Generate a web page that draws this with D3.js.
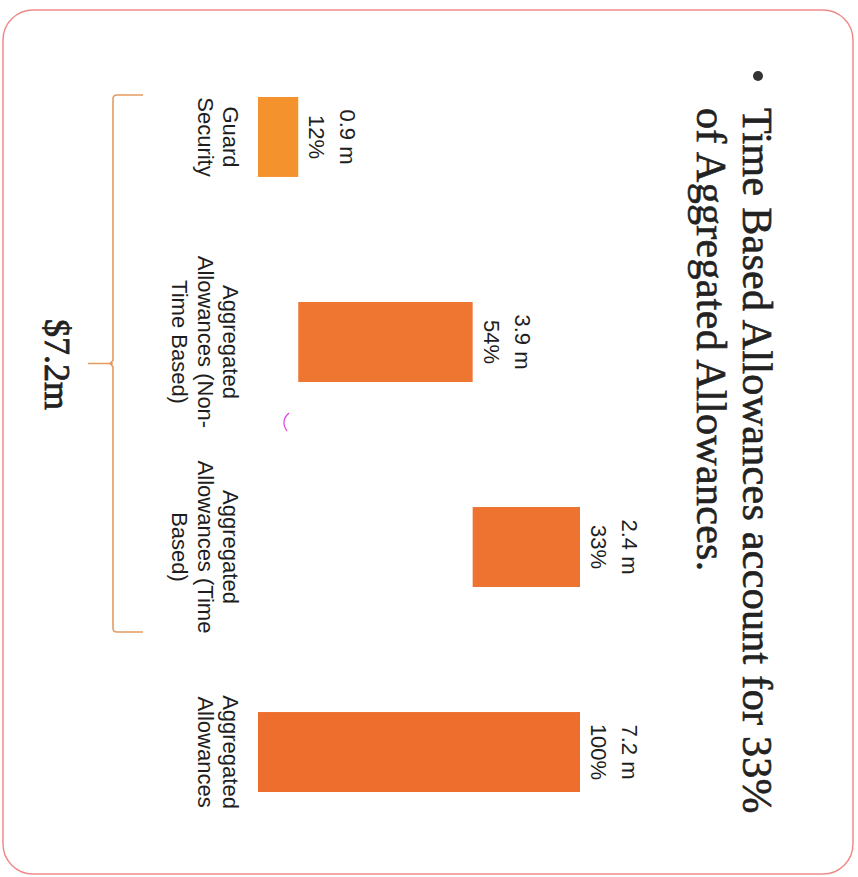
<!DOCTYPE html>
<html><head><meta charset="utf-8">
<script src="https://cdn.jsdelivr.net/npm/d3@7"></script>
<style>html,body{margin:0;padding:0;background:#fff;} svg{display:block}</style>
</head><body><svg id="chart" width="858" height="877"></svg>
<script>
// ---- data ----
const categories = ["Guard Security", "Aggregated Allowances (Non-Time Based)", "Aggregated Allowances (Time Based)", "Aggregated Allowances"];
const categoryLines = [["Guard", "Security"], ["Aggregated", "Allowances (Non-", "Time Based)"], ["Aggregated", "Allowances (Time", "Based)"], ["Aggregated", "Allowances"]];
const values = [0.9, 3.9, 2.4, 7.2];
const amountLabels = ["0.9 m", "3.9 m", "2.4 m", "7.2 m"];
const percentLabels = ["12%", "54%", "33%", "100%"];
const isTotal = [false, false, false, true];
const titleLines = ["Time Based Allowances account for 33%", "of Aggregated Allowances."];
const braceLabel = "$7.2m";

// ---- build waterfall ----
let running = 0;
const rows = categories.map((c, i) => {
  let s, e;
  if (isTotal[i]) { s = 0; e = values[i]; }
  else { s = running; e = running + values[i]; running = e; }
  return { cat: c, lines: categoryLines[i], start: s, end: e, amount: amountLabels[i], pct: percentLabels[i] };
});

const W = 858, H = 877;
const svg = d3.select("#chart");
svg.append("rect").attr("width", W).attr("height", H).attr("fill", "#ffffff");

// slide border (screen coordinates)
svg.append("rect").attr("x", 3).attr("y", 10).attr("width", 850).attr("height", 864)
  .attr("rx", 30).attr("fill", "none").attr("stroke", "#f08a8a").attr("stroke-width", 1.5);

// rotated slide content: original frame u (left->right) = screen y, v (top->bottom) = W - screen x
const g = svg.append("g").attr("transform", `translate(${W},0) rotate(90)`);

const x = d3.scaleBand().domain(categories).range([35.5, 853.5]).paddingInner(0.61).paddingOuter(0.3);
const y = d3.scaleLinear().domain([0, 7.2]).range([600, 278]);
const color = d3.scaleOrdinal().domain(categories).range(["#f4922e", "#ef7630", "#ee7230", "#ee6e2e"]);

// title
g.append("circle").attr("cx", 76).attr("cy", 100).attr("r", 5).attr("fill", "#333");
g.selectAll("text.title").data(titleLines).join("text").attr("class", "title")
  .attr("x", 108).attr("y", (d, i) => 115 + i * 46)
  .attr("font-family", "'Liberation Serif', 'Times New Roman', serif").attr("font-size", 42)
  .attr("letter-spacing", 0.3)
  .attr("fill", "#222").attr("stroke", "#222").attr("stroke-width", 0.6).text(d => d);

// bars
g.selectAll("rect.bar").data(rows).join("rect").attr("class", "bar")
  .attr("x", d => x(d.cat)).attr("width", x.bandwidth())
  .attr("y", d => y(d.end)).attr("height", d => y(d.start) - y(d.end))
  .attr("fill", d => color(d.cat));

// value labels
const vl = g.selectAll("text.val").data(rows).join("text").attr("class", "val")
  .attr("text-anchor", "middle")
  .attr("font-family", "'Liberation Sans', Arial, sans-serif").attr("font-size", 22).attr("fill", "#1e1e1e");
vl.append("tspan").attr("x", d => x(d.cat) + x.bandwidth() / 2).attr("y", d => y(d.end) - 42).text(d => d.amount);
vl.append("tspan").attr("x", d => x(d.cat) + x.bandwidth() / 2).attr("y", d => y(d.end) - 11).text(d => d.pct);

// category labels
const cl = g.selectAll("text.cat").data(rows).join("text").attr("class", "cat")
  .attr("text-anchor", "middle")
  .attr("font-family", "'Liberation Sans', Arial, sans-serif").attr("font-size", 22).attr("fill", "#1e1e1e");
cl.selectAll("tspan").data(d => d.lines.map(l => ({ l, cx: x(d.cat) + x.bandwidth() / 2 }))).join("tspan")
  .attr("x", d => d.cx).attr("y", (d, i) => y(0) + 35 + i * 25.5).text(d => d.l);

// brace under the first three bars
const u0 = x(categories[0]) - 2, u1 = x(categories[3]) - 80, um = (u0 + u1) / 2;
const vb = 745, vEnd = 715, vNub = 770;
const brace = d3.path();
brace.moveTo(u0, vEnd);
brace.lineTo(u0, vb - 4);
brace.quadraticCurveTo(u0, vb, u0 + 4, vb);
brace.lineTo(um - 3, vb);
brace.lineTo(um, vb + 3);
brace.lineTo(um + 3, vb);
brace.lineTo(u1 - 4, vb);
brace.quadraticCurveTo(u1, vb, u1, vb - 4);
brace.lineTo(u1, vEnd);
brace.moveTo(um, vb);
brace.lineTo(um, vNub);
g.append("path").attr("d", brace.toString()).attr("fill", "none")
  .attr("stroke", "#e39a62").attr("stroke-width", 1.6);
g.append("text").attr("x", um + 1).attr("y", 813).attr("text-anchor", "middle")
  .attr("font-family", "'Liberation Serif', 'Times New Roman', serif").attr("font-size", 36)
  .attr("fill", "#222").attr("stroke", "#222").attr("stroke-width", 0.8).text(braceLabel);

// small pen mark on the scan
svg.append("path").attr("d", "M289,413 Q280,421 287,431").attr("fill", "none")
  .attr("stroke", "#e040e0").attr("stroke-width", 1.2);
</script></body></html>
